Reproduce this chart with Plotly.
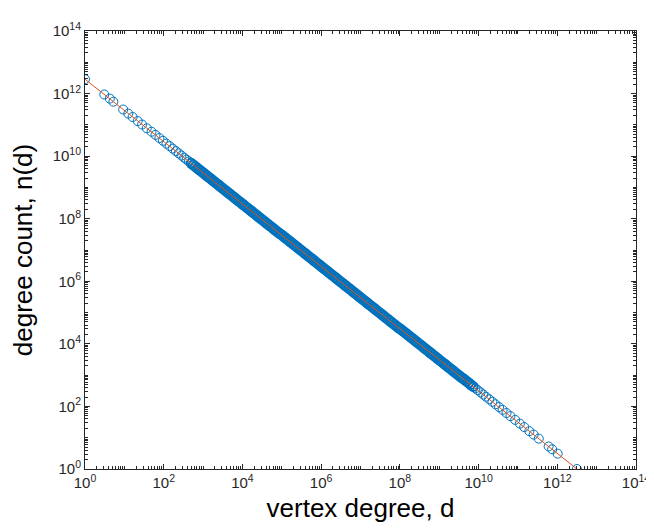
import plotly.graph_objects as go

# log10 of vertex degree d
log_d = [
    0.00, 0.49, 0.63, 0.72, 0.97, 1.10, 1.21, 1.34, 1.45, 1.57, 1.69, 1.79, 1.89, 1.98,
    2.07, 2.15, 2.23, 2.31, 2.38, 2.45, 2.52, 2.58, 2.64, 2.70, 2.75, 2.80, 2.85, 2.90,
    2.95, 3.00, 3.05, 3.10, 3.15, 3.20, 3.25, 3.30, 3.35, 3.40, 3.45, 3.50, 3.55, 3.60,
    3.65, 3.70, 3.75, 3.80, 3.85, 3.90, 3.95,
    4.00, 4.05, 4.10, 4.15, 4.20, 4.25, 4.30, 4.35, 4.40, 4.45, 4.50, 4.55, 4.60, 4.65,
    4.70, 4.75, 4.80, 4.85, 4.90, 4.95,
    5.00, 5.05, 5.10, 5.15, 5.20, 5.25, 5.30, 5.35, 5.40, 5.45, 5.50, 5.55, 5.60, 5.65,
    5.70, 5.75, 5.80, 5.85, 5.90, 5.95,
    6.00, 6.05, 6.10, 6.15, 6.20, 6.25, 6.30, 6.35, 6.40, 6.45, 6.50, 6.55, 6.60, 6.65,
    6.70, 6.75, 6.80, 6.85, 6.90, 6.95,
    7.00, 7.05, 7.10, 7.15, 7.20, 7.25, 7.30, 7.35, 7.40, 7.45, 7.50, 7.55, 7.60, 7.65,
    7.70, 7.75, 7.80, 7.85, 7.90, 7.95,
    8.00, 8.05, 8.10, 8.15, 8.20, 8.25, 8.30, 8.35, 8.40, 8.45, 8.50, 8.55, 8.60, 8.65,
    8.70, 8.75, 8.80, 8.85, 8.90, 8.95,
    9.00, 9.05, 9.10, 9.15, 9.20, 9.25, 9.30, 9.35, 9.40, 9.45, 9.50, 9.55,
    9.60, 9.65, 9.70, 9.75, 9.80, 9.86, 9.92, 9.98, 10.05, 10.12, 10.19, 10.27, 10.35,
    10.43, 10.52, 10.61, 10.71, 10.81, 10.93, 11.05, 11.16, 11.29, 11.40, 11.53, 11.78,
    11.87, 12.01, 12.50,
]

# log10 of degree count n(d)
log_n = [
    12.46, 11.97, 11.84, 11.74, 11.49, 11.36, 11.25, 11.12, 11.01, 10.89, 10.78, 10.68, 10.58, 10.49,
    10.40, 10.32, 10.24, 10.16, 10.09, 10.02, 9.95, 9.89, 9.83, 9.77, 9.72, 9.67, 9.62, 9.57,
    9.52, 9.47, 9.42, 9.37, 9.32, 9.27, 9.22, 9.17, 9.12, 9.07, 9.02, 8.97, 8.92, 8.87,
    8.82, 8.77, 8.72, 8.67, 8.62, 8.57, 8.52,
    8.47, 8.42, 8.37, 8.32, 8.27, 8.22, 8.17, 8.12, 8.07, 8.02, 7.97, 7.92, 7.87, 7.82,
    7.77, 7.72, 7.67, 7.62, 7.57, 7.52,
    7.48, 7.43, 7.38, 7.33, 7.28, 7.23, 7.18, 7.13, 7.08, 7.03, 6.98, 6.93, 6.88, 6.83,
    6.78, 6.73, 6.68, 6.63, 6.58, 6.53,
    6.48, 6.43, 6.38, 6.33, 6.28, 6.23, 6.18, 6.13, 6.08, 6.03, 5.98, 5.93, 5.88, 5.83,
    5.78, 5.73, 5.68, 5.63, 5.58, 5.53,
    5.48, 5.43, 5.38, 5.33, 5.28, 5.23, 5.18, 5.13, 5.08, 5.03, 4.98, 4.93, 4.88, 4.83,
    4.78, 4.73, 4.68, 4.63, 4.58, 4.53,
    4.49, 4.44, 4.39, 4.34, 4.29, 4.24, 4.19, 4.14, 4.09, 4.04, 3.99, 3.94, 3.89, 3.84,
    3.79, 3.74, 3.69, 3.64, 3.59, 3.54,
    3.49, 3.44, 3.39, 3.34, 3.29, 3.24, 3.19, 3.14, 3.09, 3.04, 2.99, 2.94,
    2.90, 2.85, 2.80, 2.75, 2.70, 2.64, 2.58, 2.52, 2.45, 2.38, 2.31, 2.23, 2.15,
    2.07, 1.98, 1.89, 1.79, 1.69, 1.57, 1.45, 1.34, 1.21, 1.10, 0.97, 0.72,
    0.63, 0.49, 0.00,
]

tick_exponents = [0, 2, 4, 6, 8, 10, 12, 14]

d = [10 ** v for v in log_d]
n = [10 ** v for v in log_n]

tickvals = [10 ** e for e in tick_exponents]
ticktext = ["10<sup>%d</sup>" % e for e in tick_exponents]
minor_vals = [m * 10 ** k for k in range(0, 14) for m in range(1, 10) if not (m == 1 and k % 2 == 0)]

BLUE = "#0072BD"
ORANGE = "#D95319"
AX = "#262626"
FONT = "Liberation Sans, Arial, Helvetica, sans-serif"

# overlapping circles in the crowded middle render as a solid band
ring_w = [1.0 if (v < 2.7 or v > 9.9) else 2.0 for v in log_d]

fig = go.Figure()
fig.add_trace(go.Scatter(
    x=d, y=n, mode="markers",
    marker=dict(symbol="circle-open", size=9, color=BLUE, line=dict(width=ring_w, color=BLUE)),
    showlegend=False, hoverinfo="skip",
))
fig.add_trace(go.Scatter(
    x=d, y=n, mode="lines",
    line=dict(color=ORANGE, width=1),
    showlegend=False, hoverinfo="skip",
))

axis_common = dict(
    type="log",
    tickmode="array",
    tickvals=tickvals,
    ticktext=ticktext,
    ticks="inside",
    ticklen=5,
    tickwidth=1,
    tickcolor=AX,
    showline=True,
    linecolor=AX,
    linewidth=1,
    mirror="allticks",
    showgrid=False,
    zeroline=False,
    tickfont=dict(family=FONT, size=15, color=AX),
    minor=dict(ticks="inside", ticklen=3, tickwidth=1, tickcolor=AX, tickvals=minor_vals, showgrid=False),
)

fig.update_layout(
    width=654, height=529,
    margin=dict(l=77, r=16, t=14, b=68),
    paper_bgcolor="white",
    plot_bgcolor="white",
    font=dict(family=FONT, color="black"),
    xaxis=dict(axis_common, range=[0, 14],
               title=dict(text="vertex degree, d", font=dict(family=FONT, size=26, color="black"), standoff=8)),
    yaxis=dict(axis_common, range=[0, 14],
               title=dict(text="degree count, n(d)", font=dict(family=FONT, size=26, color="black"), standoff=14)),
)

fig.write_html("out.html")
